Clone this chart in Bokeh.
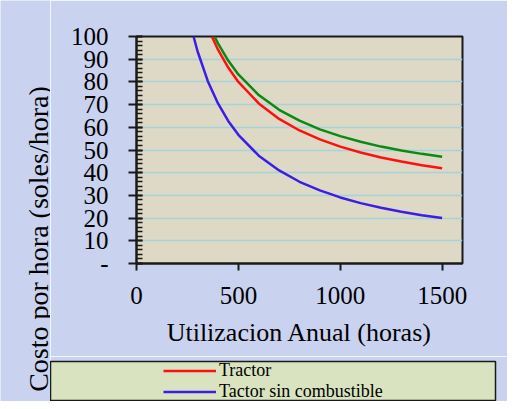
import math
from bokeh.plotting import figure
from bokeh.layouts import column, row
from bokeh.models import Range1d, FixedTicker, Legend, LegendItem, Label
from bokeh.embed import file_html
from bokeh.resources import INLINE

# Data
hours_tractor = [370, 400, 450, 500, 600, 700, 800, 900, 1000, 1100, 1200, 1300, 1400, 1500]
cost_tractor = [100, 94.2, 86.3, 80.0, 70.5, 63.7, 58.6, 54.7, 51.5, 48.9, 46.7, 44.9, 43.3, 42.0]

hours_green = [383, 400, 450, 500, 600, 700, 800, 900, 1000, 1100, 1200, 1300, 1400, 1500]
cost_green = [100, 97.0, 89.4, 83.3, 74.2, 67.7, 62.9, 59.1, 56.1, 53.6, 51.5, 49.8, 48.3, 47.0]

hours_sin = [280, 300, 350, 400, 450, 500, 600, 700, 800, 900, 1000, 1100, 1200, 1300, 1400, 1500]
cost_sin = [100, 93.4, 80.3, 70.5, 62.8, 56.7, 47.5, 41.0, 36.0, 32.2, 29.1, 26.6, 24.6, 22.8, 21.3, 20.0]

x_ticks = [0, 500, 1000, 1500]
y_ticks = [0, 10, 20, 30, 40, 50, 60, 70, 80, 90, 100]
y_minor = list(range(0, 101, 2))
y_labels = {0: "-"}

x_title = "Utilizacion Anual (horas)"
y_title = "Costo por hora (soles/hora)"
legend_labels = ["Tractor", "Tactor sin combustible"]

FONT = "Liberation Serif"
BG = "#c9d2ef"
RED = "#ff1010"
BLUE = "#3a1ee8"
GREEN = "#0a8a14"

WT = 50          # strip holding the y title
W = 457          # main column width
H1 = 356
H2 = 45
H = H1 + H2

# ---- y title strip ----
tf = figure(width=WT, height=H, output_backend="svg", toolbar_location=None,
            x_range=Range1d(0, 1), y_range=Range1d(0, 1),
            x_axis_type=None, y_axis_type=None,
            min_border_left=0, min_border_right=0, min_border_top=0, min_border_bottom=0)
tf.frame_align = False
tf.grid.visible = False
tf.outline_line_color = None
tf.background_fill_color = BG
tf.border_fill_color = BG
tf.add_layout(Label(x=38, y=H - 238.5, x_units="screen", y_units="screen", text=y_title,
                    angle=math.pi / 2, text_align="center", text_baseline="alphabetic",
                    text_font=FONT, text_font_size="28px", text_color="black"))

# ---- main chart ----
p = figure(width=W, height=H1, output_backend="svg", toolbar_location=None,
           x_range=Range1d(0, 1600), y_range=Range1d(0, 100),
           min_border_left=136 - WT, min_border_right=W - (462 - WT), min_border_top=36,
           min_border_bottom=H1 - 263)
p.frame_align = False
p.background_fill_color = "#ddd9c4"
p.border_fill_color = BG
p.outline_line_color = "#1a1a1a"
p.outline_line_width = 2

p.xgrid.grid_line_color = None
p.ygrid.grid_line_color = "#a6d2da"
p.ygrid.grid_line_width = 1.5
p.ygrid.ticker = FixedTicker(ticks=y_ticks)

p.xaxis.ticker = FixedTicker(ticks=x_ticks)
p.yaxis.ticker = FixedTicker(ticks=y_ticks, minor_ticks=y_minor)
p.yaxis.major_label_overrides = y_labels

for ax in (p.xaxis[0], p.yaxis[0]):
    ax.axis_line_color = "#1a1a1a"
    ax.axis_line_width = 2
    ax.major_tick_line_color = "#1a1a1a"
    ax.major_tick_line_width = 2
    ax.minor_tick_line_color = "#1a1a1a"
    ax.minor_tick_line_width = 1.5
    ax.major_label_text_font = FONT
    ax.major_label_text_color = "black"

p.xaxis.major_tick_in = 0
p.xaxis.major_tick_out = 7
p.xaxis.minor_tick_in = 0
p.xaxis.minor_tick_out = 0
p.xaxis.major_label_text_font_size = "25px"
p.xaxis.major_label_standoff = 16
p.xaxis.axis_label = x_title
p.xaxis.axis_label_text_font = FONT
p.xaxis.axis_label_text_font_size = "26px"
p.xaxis.axis_label_text_font_style = "normal"
p.xaxis.axis_label_text_color = "black"
p.xaxis.axis_label_standoff = 11

p.yaxis.major_tick_in = 6
p.yaxis.major_tick_out = 8
p.yaxis.minor_tick_in = 6
p.yaxis.minor_tick_out = 0
p.yaxis.major_label_text_font_size = "25px"
p.yaxis.major_label_standoff = 20

p.line(hours_green, cost_green, line_color=GREEN, line_width=2.5)
p.line(hours_tractor, cost_tractor, line_color=RED, line_width=2.5)
p.line(hours_sin, cost_sin, line_color=BLUE, line_width=2.5)

# ---- legend strip: its frame is the legend box ----
# (ranges chosen so the series themselves fall outside this strip; only the legend shows)
lg = figure(width=W, height=H2, output_backend="svg", toolbar_location=None,
            x_range=Range1d(-20, -10), y_range=Range1d(0, 100),
            x_axis_type=None, y_axis_type=None,
            min_border_left=0, min_border_right=W - (495 - WT), min_border_top=5,
            min_border_bottom=1)
lg.frame_align = False
lg.grid.visible = False
lg.background_fill_color = "#d9e3bf"
lg.border_fill_color = BG
lg.outline_line_color = "#1a1a1a"
lg.outline_line_width = 1.5

lr = lg.line(hours_tractor, cost_tractor, line_color=RED, line_width=2.5)
lb = lg.line(hours_sin, cost_sin, line_color=BLUE, line_width=2.5)

legend = Legend(items=[LegendItem(label=legend_labels[0], renderers=[lr]),
                       LegendItem(label=legend_labels[1], renderers=[lb])],
                location=(163 - 50, -2), orientation="vertical",
                padding=0, margin=0, spacing=-1,
                glyph_width=53, glyph_height=19, label_height=19, label_standoff=3,
                label_text_font=FONT, label_text_font_size="18px", label_text_color="black",
                background_fill_alpha=0, border_line_alpha=0)
lg.add_layout(legend, "center")

layout = row(tf, column(p, lg, spacing=0), spacing=0)

open("out.html", "w").write(file_html(layout, INLINE))
